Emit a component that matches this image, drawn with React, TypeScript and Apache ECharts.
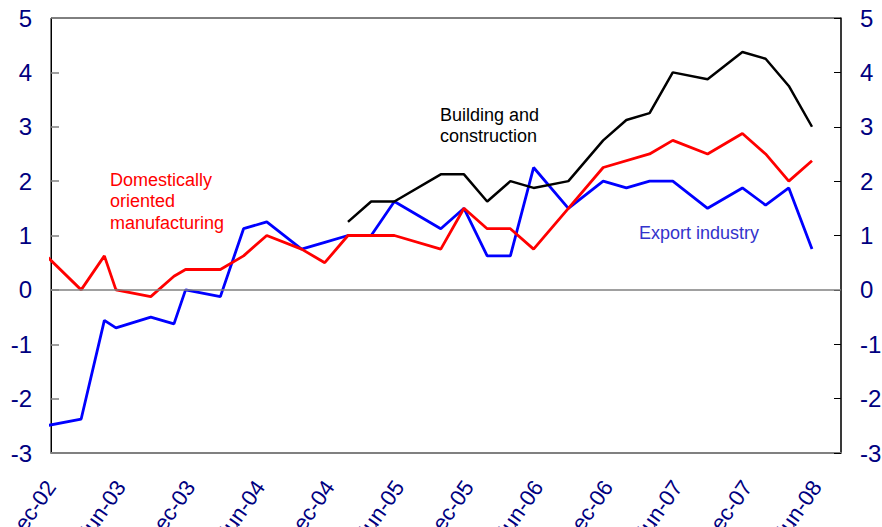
import React, { useEffect, useRef } from "react";
import * as echarts from "echarts";

// months since Dec-2002 of each survey observation
const months = [0, 3, 5, 6, 9, 11, 12, 15, 17, 19, 22, 24, 26, 28, 30, 34, 36, 38, 40, 42, 45, 48, 50, 52, 54, 57, 60, 62, 64, 66];

const domestic = [0.625, 0, 0.625, 0, -0.125, 0.25, 0.375, 0.375, 0.625, 1.0, 0.75, 0.5, 1.0, 1.0, 1.0, 0.75, 1.5, 1.125, 1.125, 0.75, 1.5, 2.25, null, 2.5, 2.75, 2.5, 2.875, 2.5, 2.0, 2.375];
const exportInd = [-2.5, -2.375, -0.56, -0.7, -0.5, -0.625, 0, -0.125, 1.125, 1.25, 0.75, 0.875, 1.0, 1.0, 1.625, 1.125, 1.5, 0.625, 0.625, 2.25, 1.5, 2.0, 1.875, 2.0, 2.0, 1.5, 1.875, 1.56, 1.875, 0.75];
const building = [null, null, null, null, null, null, null, null, null, null, null, null, 1.25, 1.625, 1.625, 2.125, 2.125, 1.625, 2.0, 1.875, 2.0, 2.75, 3.125, 3.25, 4.0, 3.875, 4.375, 4.25, 3.75, 3.0];

const xLabels = ["Dec-02", "Jun-03", "Dec-03", "Jun-04", "Dec-04", "Jun-05", "Dec-05", "Jun-06", "Dec-06", "Jun-07", "Dec-07", "Jun-08"];
const yTicks = [-3, -2, -1, 0, 1, 2, 3, 4, 5];

const AXIS_START = 0.4;
const AXIS_END = 68.5;
const FONT = "'Liberation Sans', Arial, sans-serif";
const NAVY = "#000080";

function pairs(vals: (number | null)[]) {
  const out: [number, number][] = [];
  vals.forEach((v, i) => {
    if (v !== null) out.push([months[i], v]);
  });
  return out;
}

export default function App() {
  const ref = useRef<HTMLDivElement>(null);
  useEffect(() => {
    if (!ref.current) return;
    const chart = echarts.init(ref.current, null, { renderer: "svg" });
    const labelPositions = xLabels.map((_, i) => AXIS_START + 6 * i);
    const yAxisBase = {
      type: "value",
      min: yTicks[0],
      max: yTicks[yTicks.length - 1],
      interval: 1,
      splitLine: { show: false },
    };
    chart.setOption({
      animation: false,
      backgroundColor: "#ffffff",
      grid: {
        left: 51,
        right: 41,
        top: 18,
        bottom: 74,
        containLabel: false,
        outerBoundsMode: "none",
        show: true,
        borderColor: "#000000",
        borderWidth: 1,
      },
      xAxis: {
        type: "value",
        min: AXIS_START,
        max: AXIS_END,
        splitLine: { show: false },
        axisTick: { show: false },
        axisLine: { show: true, onZero: false, lineStyle: { color: "#808080", width: 2 } },
        axisLabel: {
          customValues: labelPositions,
          formatter: (v: number) => xLabels[Math.round((v - AXIS_START) / 6)] ?? "",
          rotate: 55,
          margin: 30,
          color: NAVY,
          fontSize: 22,
          fontFamily: FONT,
        },
      },
      yAxis: [
        {
          ...yAxisBase,
          position: "left",
          axisLine: { show: true, lineStyle: { color: "#000000", width: 1 } },
          axisTick: { show: true, inside: true, length: 8, lineStyle: { color: "#808080", width: 1.5 } },
          axisLabel: { margin: 19, color: NAVY, fontSize: 24, fontFamily: FONT },
        },
        {
          ...yAxisBase,
          position: "right",
          axisLine: { show: true, lineStyle: { color: "#222222", width: 1.5 } },
          axisTick: { show: true, inside: true, length: 7, lineStyle: { color: "#000000", width: 1 } },
          axisLabel: { margin: 19, color: NAVY, fontSize: 24, fontFamily: FONT },
        },
      ],
      series: [
        {
          type: "line",
          data: [],
          z: 1,
          silent: true,
          markLine: {
            silent: true,
            symbol: "none",
            label: { show: false },
            lineStyle: { color: "#808080", width: 1.5, type: "solid" },
            data: [{ yAxis: 0 }],
          },
        },
        {
          name: "Export industry",
          type: "line",
          data: pairs(exportInd),
          showSymbol: false,
          clip: true,
          z: 2,
          lineStyle: { color: "#0000ff", width: 2.8 },
          itemStyle: { color: "#0000ff" },
        },
        {
          name: "Domestically oriented manufacturing",
          type: "line",
          data: pairs(domestic),
          showSymbol: false,
          clip: true,
          z: 3,
          lineStyle: { color: "#ff0000", width: 2.8 },
          itemStyle: { color: "#ff0000" },
        },
        {
          name: "Building and construction",
          type: "line",
          data: pairs(building),
          showSymbol: false,
          clip: true,
          z: 4,
          lineStyle: { color: "#000000", width: 2.5 },
          itemStyle: { color: "#000000" },
        },
      ],
      graphic: [
        {
          type: "text",
          left: 110,
          top: 169,
          style: {
            text: "Domestically\noriented\nmanufacturing",
            fill: "#ff0000",
            fontSize: 18,
            lineHeight: 21.5,
            fontFamily: FONT,
          },
        },
        {
          type: "text",
          left: 440,
          top: 104,
          style: {
            text: "Building and\nconstruction",
            fill: "#000000",
            fontSize: 18,
            lineHeight: 21.5,
            fontFamily: FONT,
          },
        },
        {
          type: "text",
          left: 639,
          top: 222,
          style: {
            text: "Export industry",
            fill: "#3333cc",
            fontSize: 18,
            lineHeight: 21.5,
            fontFamily: FONT,
          },
        },
      ],
    });
    return () => chart.dispose();
  }, []);
  return (
    <div
      ref={ref}
      style={{ position: "fixed", left: 0, top: 0, width: 882, height: 527, background: "#fff" }}
    />
  );
}
